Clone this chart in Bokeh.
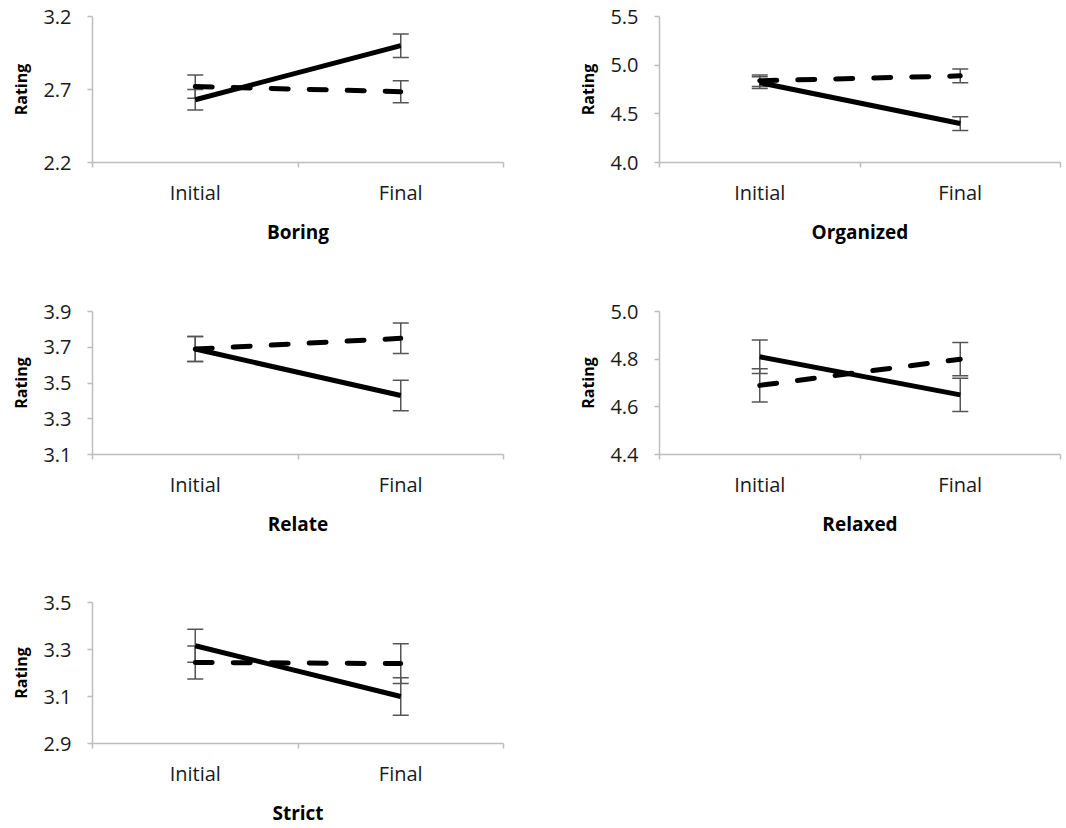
import numpy as np
from bokeh.plotting import figure
from bokeh.models import Range1d, FixedTicker, Whisker, ColumnDataSource, TeeHead, NumeralTickFormatter
from bokeh.layouts import column, row
from bokeh.embed import file_html
from bokeh.resources import INLINE

# ---------------- data ----------------
phases = ["Initial", "Final"]

boring_solid = [2.63, 3.00]
boring_solid_err = [0.07, 0.08]
boring_dashed = [2.72, 2.685]
boring_dashed_err = [0.08, 0.075]
boring_ticks = [2.2, 2.7, 3.2]

organized_solid = [4.82, 4.40]
organized_solid_err = [0.06, 0.07]
organized_dashed = [4.84, 4.89]
organized_dashed_err = [0.06, 0.07]
organized_ticks = [4.0, 4.5, 5.0, 5.5]

relate_solid = [3.69, 3.43]
relate_solid_err = [0.07, 0.085]
relate_dashed = [3.69, 3.75]
relate_dashed_err = [0.07, 0.085]
relate_ticks = [3.1, 3.3, 3.5, 3.7, 3.9]

relaxed_solid = [4.81, 4.65]
relaxed_solid_err = [0.07, 0.07]
relaxed_dashed = [4.69, 4.80]
relaxed_dashed_err = [0.07, 0.07]
relaxed_ticks = [4.4, 4.6, 4.8, 5.0]

strict_solid = [3.316, 3.10]
strict_solid_err = [0.07, 0.08]
strict_dashed = [3.245, 3.24]
strict_dashed_err = [0.07, 0.085]
strict_ticks = [2.9, 3.1, 3.3, 3.5]

FONT = "Open Sans"
AXIS_COLOR = "#bdbdbd"
ERR_COLOR = "#555555"


def make_panel(title, solid, solid_err, dashed, dashed_err, ticks,
               width, height, left, right, top, bottom,
               label_standoff=11, title_standoff=10):
    xs = [i + 0.5 for i in range(len(phases))]
    p = figure(width=width, height=height,
               x_range=Range1d(0, len(phases)),
               y_range=Range1d(ticks[0], ticks[-1]),
               output_backend="svg", toolbar_location=None,
               min_border_left=left, min_border_right=right,
               min_border_top=top, min_border_bottom=bottom)
    p.outline_line_color = None
    p.xgrid.visible = False
    p.ygrid.visible = False

    # x axis: category labels at centres, tick marks at boundaries
    xa = p.xaxis[0]
    xa.ticker = FixedTicker(ticks=xs, minor_ticks=list(range(len(phases) + 1)))
    xa.major_label_overrides = {x: name for x, name in zip(xs, phases)}
    xa.major_tick_out = 0
    xa.major_tick_in = 0
    xa.minor_tick_out = 5
    xa.minor_tick_in = 0
    xa.minor_tick_line_color = AXIS_COLOR
    xa.minor_tick_line_width = 1.5
    xa.axis_line_color = AXIS_COLOR
    xa.axis_line_width = 1.5
    xa.major_label_text_font = FONT
    xa.major_label_text_font_size = "20px"
    xa.major_label_text_color = "#1a1a1a"
    xa.major_label_standoff = label_standoff
    xa.axis_label = title
    xa.axis_label_text_font = FONT
    xa.axis_label_text_font_size = "19px"
    xa.axis_label_text_font_style = "bold"
    xa.axis_label_text_color = "black"
    xa.axis_label_standoff = title_standoff

    ya = p.yaxis[0]
    ya.ticker = FixedTicker(ticks=ticks, minor_ticks=[])
    ya.formatter = NumeralTickFormatter(format="0.0")
    ya.major_tick_out = 5
    ya.major_tick_in = 0
    ya.major_tick_line_color = AXIS_COLOR
    ya.major_tick_line_width = 1.5
    ya.axis_line_color = AXIS_COLOR
    ya.axis_line_width = 1.5
    ya.major_label_text_font = FONT
    ya.major_label_text_font_size = "20px"
    ya.major_label_text_color = "#1a1a1a"
    ya.major_label_standoff = 16
    ya.axis_label = "Rating"
    ya.axis_label_text_font = FONT
    ya.axis_label_text_font_size = "16px"
    ya.axis_label_text_font_style = "bold"
    ya.axis_label_text_color = "black"
    ya.axis_label_standoff = 8

    p.line(xs, dashed, line_color="black", line_width=5, line_dash="17 21",
           line_cap="round")
    p.line(xs, solid, line_color="black", line_width=5)

    for mean, err in ((solid, solid_err), (dashed, dashed_err)):
        m = np.array(mean)
        e = np.array(err)
        src = ColumnDataSource(dict(x=xs, upper=m + e, lower=m - e))
        w = Whisker(base="x", upper="upper", lower="lower", source=src,
                    line_color=ERR_COLOR, line_width=1.5,
                    upper_head=TeeHead(size=16, line_color=ERR_COLOR, line_width=1.5),
                    lower_head=TeeHead(size=16, line_color=ERR_COLOR, line_width=1.5))
        p.add_layout(w)
    return p


W1, W2 = 548, 518
p1 = make_panel("Boring", boring_solid, boring_solid_err, boring_dashed, boring_dashed_err,
                boring_ticks, W1, 292, 92, 45, 15, 130)
p2 = make_panel("Organized", organized_solid, organized_solid_err, organized_dashed,
                organized_dashed_err, organized_ticks, W2, 292, 111, 6, 16, 130)
p3 = make_panel("Relate", relate_solid, relate_solid_err, relate_dashed, relate_dashed_err,
                relate_ticks, W1, 290, 92, 45, 19, 128)
p4 = make_panel("Relaxed", relaxed_solid, relaxed_solid_err, relaxed_dashed,
                relaxed_dashed_err, relaxed_ticks, W2, 290, 111, 6, 19, 128)
p5 = make_panel("Strict", strict_solid, strict_solid_err, strict_dashed, strict_dashed_err,
                strict_ticks, W1, 246, 92, 45, 20, 83)

layout = column(row(p1, p2), row(p3, p4), row(p5))

with open("out.html", "w") as f:
    f.write(file_html(layout, INLINE))
